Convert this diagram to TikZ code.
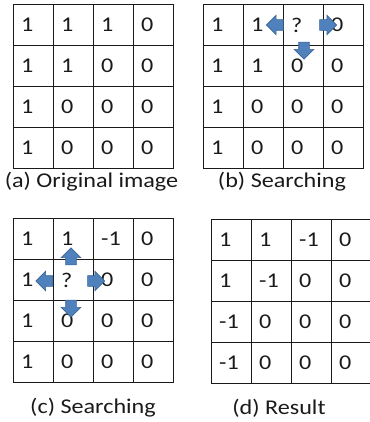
\documentclass[tikz,border=0pt]{standalone}
\usepackage{fontspec}
\setmainfont{Carlito}[FakeStretch=1.15]
\usetikzlibrary{shapes.arrows}
\definecolor{arrowfill}{HTML}{4F81BD}
\definecolor{arrowedge}{HTML}{3A6496}
\definecolor{ink}{HTML}{1A1A1A}
\tikzset{
  cellbox/.style={draw=ink, line width=1.3pt, minimum height=41pt, inner sep=0pt, anchor=north west},
  cellval/.style={anchor=west, inner sep=0pt, font=\fontsize{21}{24}\selectfont, text=ink},
  caption/.style={font=\fontsize{21}{24}\selectfont, text=ink, inner sep=0pt},
  blockarrow/.style={single arrow, draw=arrowedge, fill=arrowfill, line width=0.6pt,
    minimum height=17pt, inner xsep=0pt, inner ysep=5pt, single arrow head extend=4.5pt},
}
\newcommand\drawmygrid[5]{%
  \foreach \vals [count=\r] in {#5} {
    \foreach \v [count=\c] in \vals {
      \node[cellbox, minimum width=#4pt] (#1-\r-\c) at ({#2+(\c-1)*#4}, {#3+(\r-1)*41}) {};
      \node[cellval] (#1v-\r-\c) at ([xshift=8pt]#1-\r-\c.west) {\v};
    }
  }%
}
\begin{document}
\begin{tikzpicture}[x=1pt, y=-1pt]
\useasboundingbox (0,0) rectangle (369,422);
\drawmygrid{a}{13}{4}{40}{{1,1,1,0},{1,1,0,0},{1,0,0,0},{1,0,0,0}}
\drawmygrid{b}{203}{4}{40}{{1,1,?,0},{1,1,0,0},{1,0,0,0},{1,0,0,0}}
\drawmygrid{c}{13}{218}{40}{{1,1,-1,0},{1,?,0,0},{1,0,0,0},{1,0,0,0}}
\drawmygrid{d}{211}{219}{40}{{1,1,-1,0},{1,-1,0,0},{-1,0,0,0},{-1,0,0,0}}
% arrows in (b)
\node[blockarrow, rotate=180] (bl) at (277.5,25) {};
\node[blockarrow] (br) at (325.5,25) {};
\node[blockarrow, rotate=270] (bd) at (304,48) {};
% arrows in (c)
\node[blockarrow, rotate=90] (cu) at (71,259) {};
\node[blockarrow, rotate=180] (cl) at (47,281) {};
\node[blockarrow] (cr) at (93.5,281) {};
\node[blockarrow, rotate=270] (cd) at (71,306) {};
% captions
\node[caption] (capa) at (91.5,182) {(a) Original image};
\node[caption] (capb) at (282,182) {(b) Searching};
\node[caption] (capc) at (93,408) {(c) Searching};
\node[caption] (capd) at (279,408) {(d) Result};
\end{tikzpicture}
\end{document}
